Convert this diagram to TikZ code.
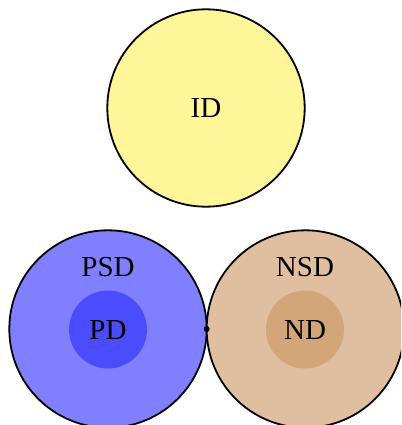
\documentclass[tikz,border=0pt]{standalone}
\usepackage{fontspec}
\setmainfont{Liberation Serif}
\definecolor{idyellow}{RGB}{255,245,153}
\begin{document}
\begin{tikzpicture}[x=1pt,y=-1pt,
  big/.style={circle,draw=black,line width=1.8pt,minimum size=197.4pt,inner sep=0pt},
  small/.style={circle,draw=none,minimum size=78pt,inner sep=0pt},
  lbl/.style={inner sep=0pt,font=\fontsize{29}{32}\selectfont}]
\useasboundingbox (0,0) rectangle (401,425);
\clip (0,0) rectangle (401,425);
\node[big,fill=idyellow] (id) at (206,108) {};
\node[lbl] (idl) at (206,108) {ID};
\node[big,fill=blue!50] (psd) at (108,329) {};
\node[big,fill=brown!50] (nsd) at (305.4,329) {};
\node[small,fill=blue!70] (pd) at (108,329.5) {};
\node[small,fill=brown!70] (nd) at (305,329.5) {};
\node[lbl] (pdl) at (108,330) {PD};
\node[lbl] (ndl) at (305,330) {ND};
\node[lbl] (psdl) at (108,267) {PSD};
\node[lbl] (nsdl) at (305,267) {NSD};
\node[circle,fill=black,inner sep=0pt,minimum size=6pt] (touch) at (206.7,329) {};
\end{tikzpicture}
\end{document}
